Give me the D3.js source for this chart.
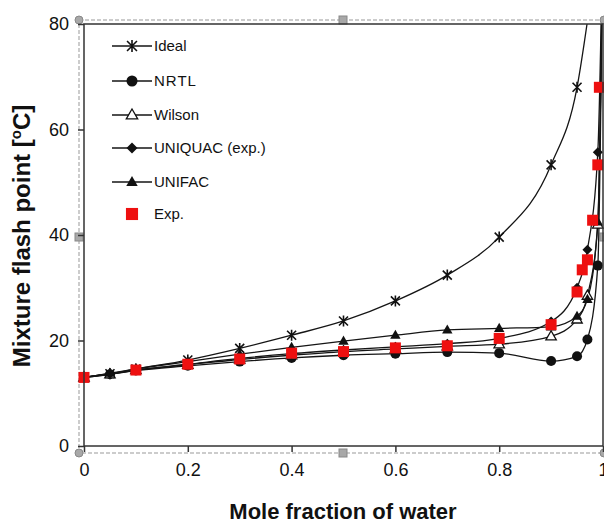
<!DOCTYPE html>
<html>
<head>
<meta charset="utf-8">
<script src="https://cdn.jsdelivr.net/npm/d3@7"></script>
<style>
body { margin: 0; background: #fff; }
text { font-family: "Liberation Sans", Arial, sans-serif; fill: #111; }
</style>
</head>
<body>
<div id="chart"></div>
<script>
// model x values (mole fraction of water)
var xModel = [0, 0.05, 0.1, 0.2, 0.3, 0.4, 0.5, 0.6, 0.7, 0.8, 0.9, 0.95, 0.97, 0.99];
var idealX = [0, 0.05, 0.1, 0.2, 0.3, 0.4, 0.5, 0.6, 0.7, 0.8, 0.9, 0.95];

var idealY   = [13.0, 13.7, 14.6, 16.3, 18.5, 21.0, 23.7, 27.5, 32.4, 39.6, 53.3, 68.0];
var nrtlY    = [13.0, 13.6, 14.3, 15.2, 16.0, 16.7, 17.2, 17.5, 17.8, 17.6, 16.1, 17.0, 20.2, 34.2];
var wilsonY  = [13.0, 13.6, 14.4, 15.4, 16.4, 17.2, 17.9, 18.4, 18.9, 19.3, 20.8, 24.0, 28.5, 42.0];
var uniquacY = [13.0, 13.7, 14.4, 15.5, 16.6, 17.5, 18.2, 18.8, 19.4, 20.4, 23.6, 30.0, 37.2, 55.7];
var unifacY  = [13.0, 13.8, 14.6, 16.0, 17.4, 18.7, 19.9, 21.0, 22.0, 22.3, 22.6, 24.6, 27.8, 42.5];

// where the curves leave the top of the plot
var idealTail = [0.975, 84];
var modelTail = [1.0, 100];

// experimental points
var expX = [0, 0.1, 0.2, 0.3, 0.4, 0.5, 0.6, 0.7, 0.8, 0.9, 0.95, 0.96, 0.97, 0.98, 0.99, 0.993];
var expY = [13.0, 14.4, 15.5, 16.5, 17.6, 17.9, 18.6, 19.0, 20.4, 23.0, 29.2, 33.4, 35.3, 42.8, 53.3, 68.0];

var xTicks = [0, 0.2, 0.4, 0.6, 0.8, 1];
var yTicks = [0, 20, 40, 60, 80];

var legendNames = ['Ideal', 'NRTL', 'Wilson', 'UNIQUAC (exp.)', 'UNIFAC', 'Exp.'];

var width = 604;
var height = 525;

var svg = d3.select('#chart')
			.append('svg')
			.attr('width', width)
			.attr('height', height);

var x_scale = d3.scaleLinear().domain([0, 1]).range([84, 603]);
var y_scale = d3.scaleLinear().domain([0, 80]).range([446, 24]);

// marker shapes
var shapes = {
	star: 'M-4.5,-4.5L4.5,4.5M-4.5,4.5L4.5,-4.5M0,-5.5L0,5.5',
	circle: 'M5,0A5,5 0 1,1 -5,0A5,5 0 1,1 5,0Z',
	triangle: 'M0,-5.5L5.2,3.6L-5.2,3.6Z',
	diamond: 'M0,-5L5,0L0,5L-5,0Z',
	square: 'M-5.5,-5.5L5.5,-5.5L5.5,5.5L-5.5,5.5Z'
};

function addMarker(g, type, cx, cy, scale) {
	var s = scale || 1;
	var p = g.append('path')
		.attr('transform', 'translate(' + cx + ',' + cy + ') scale(' + s + ')');
	if (type == 'star') {
		p.attr('d', shapes.star).attr('fill', 'none').attr('stroke', '#111').attr('stroke-width', 1.6 / s);
	} else if (type == 'openTriangle') {
		p.attr('d', shapes.triangle).attr('fill', '#fff').attr('stroke', '#111').attr('stroke-width', 1.3 / s);
	} else if (type == 'exp') {
		p.attr('d', shapes.square).attr('fill', '#ee1010').attr('stroke', 'none');
	} else {
		p.attr('d', shapes[type]).attr('fill', '#111').attr('stroke', 'none');
	}
}

var series = [
	{x: idealX, y: idealY, tail: idealTail, marker: 'star'},
	{x: xModel, y: nrtlY, tail: modelTail, marker: 'circle'},
	{x: xModel, y: wilsonY, tail: modelTail, marker: 'openTriangle'},
	{x: xModel, y: uniquacY, tail: modelTail, marker: 'diamond'},
	{x: xModel, y: unifacY, tail: modelTail, marker: 'triangle'}
];

// selection box around the picture
var box = svg.append('g');
box.append('rect')
	.attr('x', 79).attr('y', 20)
	.attr('width', 540).attr('height', 433)
	.attr('fill', 'none')
	.attr('stroke', '#999')
	.attr('stroke-dasharray', '4,2')
	.attr('stroke-width', 1);
[[79, 20], [604, 20], [79, 453], [604, 453]].forEach(function(h) {
	box.append('circle').attr('cx', h[0]).attr('cy', h[1]).attr('r', 4)
		.attr('fill', '#a8a8a8').attr('stroke', '#888');
});
[[343, 20], [79, 237], [604, 237], [343, 453]].forEach(function(h) {
	box.append('rect').attr('x', h[0] - 4).attr('y', h[1] - 4).attr('width', 8).attr('height', 8)
		.attr('fill', '#a8a8a8').attr('stroke', '#888');
});

// clip for curves
svg.append('clipPath').attr('id', 'plotclip')
	.append('rect')
	.attr('x', 84).attr('y', 24)
	.attr('width', 519).attr('height', 422);

var line = d3.line()
	.x(function(d) { return x_scale(d[0]); })
	.y(function(d) { return y_scale(d[1]); })
	.curve(d3.curveMonotoneX);

var curves = svg.append('g').attr('clip-path', 'url(#plotclip)');
series.forEach(function(s) {
	var pts = s.x.map(function(v, i) { return [v, s.y[i]]; });
	pts.push(s.tail);
	curves.append('path')
		.datum(pts)
		.attr('d', line)
		.attr('fill', 'none')
		.attr('stroke', '#151515')
		.attr('stroke-width', 1.3);
});

// markers
var marks = svg.append('g');
series.forEach(function(s) {
	s.x.forEach(function(v, i) {
		addMarker(marks, s.marker, x_scale(v), y_scale(s.y[i]));
	});
});
expX.forEach(function(v, i) {
	addMarker(marks, 'exp', x_scale(v), y_scale(expY[i]));
});

// frame
svg.append('rect')
	.attr('x', 84).attr('y', 24)
	.attr('width', 519).attr('height', 422)
	.attr('fill', 'none')
	.attr('stroke', '#333')
	.attr('stroke-width', 1.5);

// axes
var x_axis = d3.axisBottom(x_scale)
	.tickValues(xTicks)
	.tickSize(6)
	.tickSizeOuter(0)
	.tickPadding(11)
	.tickFormat(d3.format('~g'));
var gx = svg.append('g')
	.attr('transform', 'translate(0,446)')
	.call(x_axis);

var y_axis = d3.axisLeft(y_scale)
	.tickValues(yTicks)
	.tickSize(6)
	.tickSizeOuter(0)
	.tickPadding(9);
var gy = svg.append('g')
	.attr('transform', 'translate(84,0)')
	.call(y_axis);

[gx, gy].forEach(function(g) {
	g.select('.domain').remove();
	g.selectAll('line').attr('stroke', '#333').attr('stroke-width', 1.5);
	g.selectAll('text')
		.attr('font-size', 18)
		.attr('font-family', '"Liberation Sans", Arial, sans-serif')
		.attr('fill', '#222');
});

// axis titles
svg.append('text')
	.attr('x', 343).attr('y', 519)
	.attr('text-anchor', 'middle')
	.attr('font-size', 22)
	.attr('font-weight', 'bold')
	.text('Mole fraction of water');

var yt = svg.append('text')
	.attr('transform', 'translate(30,236) rotate(-90)')
	.attr('text-anchor', 'middle')
	.attr('font-size', 24)
	.attr('font-weight', 'bold');
yt.append('tspan').text('Mixture flash point [');
yt.append('tspan').attr('dy', -9).attr('font-size', 15).text('o');
yt.append('tspan').attr('dy', 9).text('C]');

// legend
var legendY = [46, 81, 115, 148, 182, 214];
var legendMarkers = ['star', 'circle', 'openTriangle', 'diamond', 'triangle', 'exp'];
var lg = svg.append('g');
legendNames.forEach(function(name, i) {
	if (legendMarkers[i] != 'exp') {
		lg.append('line')
			.attr('x1', 112).attr('x2', 152)
			.attr('y1', legendY[i]).attr('y2', legendY[i])
			.attr('stroke', '#151515')
			.attr('stroke-width', 1.3);
	}
	addMarker(lg, legendMarkers[i], 132, legendY[i], 1.1);
	lg.append('text')
		.attr('x', 154).attr('y', legendY[i])
		.attr('dy', '0.36em')
		.attr('font-size', 15)
		.attr('letter-spacing', name == 'NRTL' ? 1 : 0)
		.text(name);
});
</script>
</body>
</html>
